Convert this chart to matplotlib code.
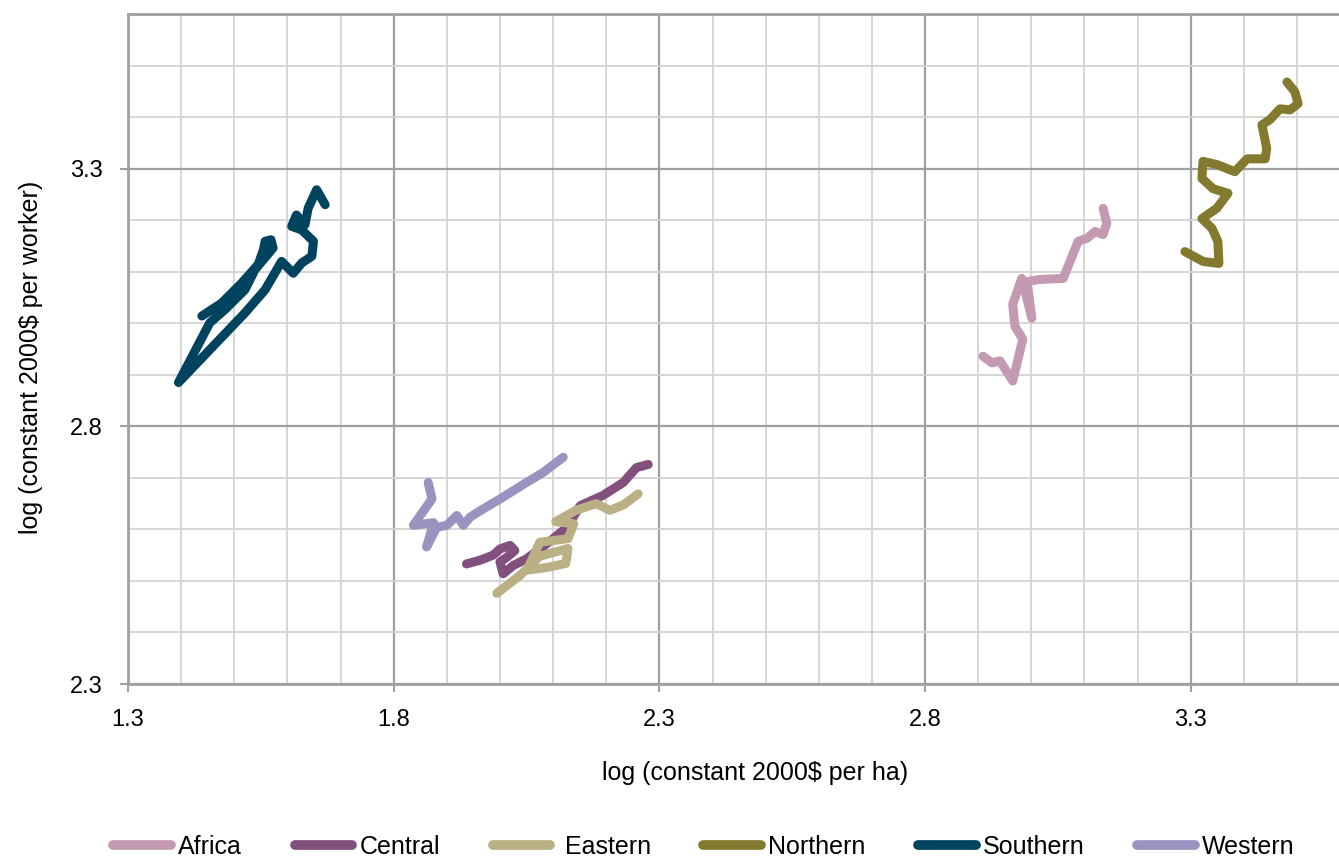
import matplotlib
matplotlib.use('Agg')
from matplotlib import pyplot

pyplot.rcParams['font.family'] = ['Liberation Sans', 'DejaVu Sans']

# log (constant 2000$ per ha) vs log (constant 2000$ per worker)
africa_x = [2.909, 2.926, 2.941, 2.965, 2.984, 2.969, 2.965, 2.982, 3.001, 2.992, 3.016, 3.060, 3.067, 3.088, 3.105, 3.120, 3.135, 3.142, 3.135]
africa_y = [2.936, 2.923, 2.927, 2.888, 2.969, 2.994, 3.037, 3.087, 3.010, 3.081, 3.085, 3.087, 3.105, 3.159, 3.165, 3.178, 3.172, 3.194, 3.223]

central_x = [1.937, 1.962, 1.987, 2.000, 2.019, 2.028, 2.013, 2.000, 2.006, 2.025, 2.050, 2.088, 2.126, 2.151, 2.194, 2.232, 2.257, 2.279]
central_y = [2.533, 2.540, 2.550, 2.562, 2.569, 2.559, 2.546, 2.537, 2.514, 2.530, 2.543, 2.572, 2.604, 2.646, 2.666, 2.691, 2.720, 2.726]

eastern_x = [1.994, 2.038, 2.075, 2.128, 2.124, 2.088, 2.051, 2.075, 2.128, 2.139, 2.105, 2.143, 2.181, 2.207, 2.233, 2.260]
eastern_y = [2.476, 2.511, 2.548, 2.563, 2.534, 2.526, 2.521, 2.575, 2.582, 2.611, 2.615, 2.637, 2.650, 2.637, 2.648, 2.669]

northern_x = [3.289, 3.323, 3.353, 3.351, 3.340, 3.321, 3.349, 3.370, 3.342, 3.321, 3.323, 3.349, 3.383, 3.406, 3.425, 3.440, 3.443, 3.434, 3.449, 3.468, 3.487, 3.502, 3.496, 3.481]
northern_y = [3.139, 3.120, 3.116, 3.159, 3.184, 3.203, 3.223, 3.252, 3.261, 3.281, 3.314, 3.308, 3.294, 3.319, 3.319, 3.319, 3.339, 3.385, 3.395, 3.416, 3.414, 3.426, 3.449, 3.468]

southern_x = [1.439, 1.476, 1.514, 1.545, 1.555, 1.558, 1.569, 1.573, 1.552, 1.539, 1.520, 1.483, 1.454, 1.395, 1.520, 1.558, 1.589, 1.611, 1.627, 1.646, 1.649, 1.627, 1.608, 1.617, 1.633, 1.639, 1.655, 1.671]
southern_y = [3.014, 3.039, 3.078, 3.114, 3.143, 3.159, 3.162, 3.146, 3.120, 3.104, 3.065, 3.027, 3.001, 2.885, 3.020, 3.065, 3.120, 3.097, 3.117, 3.130, 3.159, 3.181, 3.188, 3.210, 3.191, 3.223, 3.259, 3.230]

western_x = [1.865, 1.872, 1.837, 1.875, 1.862, 1.881, 1.900, 1.919, 1.931, 1.944, 1.969, 2.000, 2.025, 2.050, 2.082, 2.119]
western_y = [2.691, 2.659, 2.608, 2.613, 2.566, 2.604, 2.608, 2.627, 2.608, 2.624, 2.640, 2.659, 2.675, 2.691, 2.711, 2.740]

x_ticks = [1.3, 1.8, 2.3, 2.8, 3.3]
y_ticks = [2.3, 2.8, 3.3]

series = [
    ('Africa', africa_x, africa_y, '#C49AB2'),
    ('Central', central_x, central_y, '#834F7D'),
    (' Eastern', eastern_x, eastern_y, '#BAB083'),
    ('Northern', northern_x, northern_y, '#837A30'),
    ('Southern', southern_x, southern_y, '#00435F'),
    ('Western', western_x, western_y, '#9A93BF'),
]

fig = pyplot.figure(figsize=(13.39, 8.59), dpi=100)
ax = fig.add_axes([0.0956, 0.2037, 0.9044, 0.780])

for name, xs, ys, col in series:
    ax.plot(xs, ys, color=col, linewidth=6.5, solid_capstyle='round', solid_joinstyle='round', label=name)

ax.set_xlim(1.3, 3.579)
ax.set_ylim(2.3, 3.6)
ax.set_xticks(x_ticks)
ax.set_yticks(y_ticks)
ax.set_xticks([1.4, 1.5, 1.6, 1.7, 1.9, 2.0, 2.1, 2.2, 2.4, 2.5, 2.6, 2.7, 2.9, 3.0, 3.1, 3.2, 3.4, 3.5], minor=True)
ax.set_yticks([2.4, 2.5, 2.6, 2.7, 2.9, 3.0, 3.1, 3.2, 3.4, 3.5, 3.6], minor=True)
ax.set_xticklabels([str(v) for v in x_ticks])
ax.set_yticklabels([str(v) for v in y_ticks])

ax.grid(which='major', color='#A0A0A0', linewidth=1.6)
ax.grid(which='minor', color='#D3D3D3', linewidth=1.3)
ax.set_axisbelow(True)

ax.tick_params(which='major', direction='out', length=6, width=1.5, color='#A0A0A0', labelsize=17, pad=12)
ax.tick_params(which='minor', length=0)
for side in ['left', 'bottom', 'top']:
    ax.spines[side].set_color('#A0A0A0')
    ax.spines[side].set_linewidth(2)
ax.spines['right'].set_visible(False)

ax.set_xlabel('log (constant 2000$ per ha)', fontsize=18)
ax.xaxis.set_label_coords(0.518, -0.115)
ax.set_ylabel('log (constant 2000$ per worker)', fontsize=18)
ax.yaxis.set_label_coords(-0.07, 0.488)

leg = fig.legend(loc='center', bbox_to_anchor=(704 / 1339, 1 - 847 / 859), ncol=6, frameon=False,
                 fontsize=18, handlelength=2.3, handletextpad=0.3, columnspacing=2.1)
for line in leg.get_lines():
    line.set_linewidth(7)
    line.set_solid_capstyle('round')

fig.savefig('out.png', dpi=100)
